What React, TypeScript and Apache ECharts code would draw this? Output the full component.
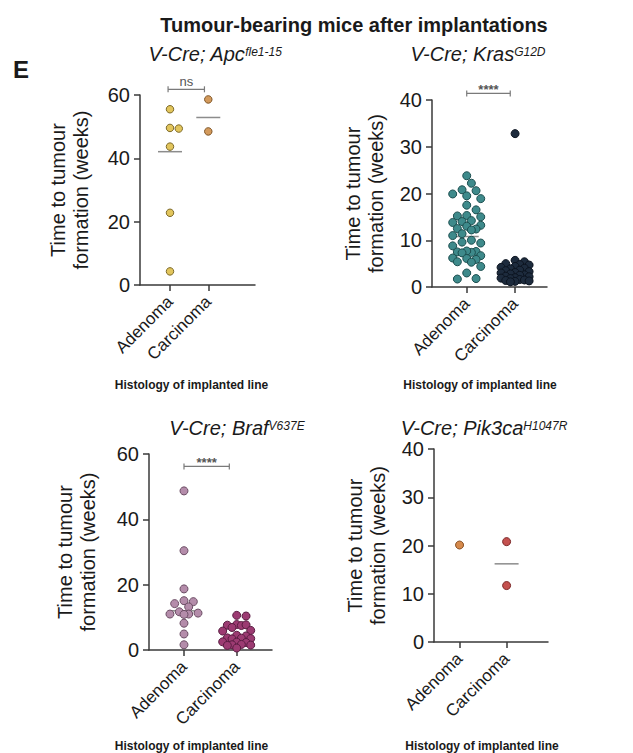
import React, { useEffect, useRef } from "react";
import * as echarts from "echarts";

// ---------- data ----------
const groups = ["Adenoma", "Carcinoma"];
const yAxisTitle = "Time to tumour\nformation (weeks)";
const xAxisTitle = "Histology of implanted line";

const apcAdenoma = [55.5, 49.6, 49.4, 43.7, 22.8, 4.3];
const apcCarcinoma = [58.6, 48.5];
const apcCentre = [42.1, 52.9];

const krasAdenoma = [
  23.8, 22.2, 20.8, 20.6, 19.9, 19.5, 18.9, 17.5, 16.5, 15.2, 15.0, 15.3, 14.0,
  14.2, 13.8, 13.2, 13.0, 12.4, 12.5, 12.2, 11.4, 11.0, 10.0, 9.6, 9.4, 8.8,
  7.6, 7.4, 7.5, 7.7, 7.3, 6.7, 6.1, 6.2, 5.9, 5.3, 5.4, 4.4, 3.0, 1.7, 1.8,
];
const krasCarcinoma = [
  32.8, 5.7, 5.4, 5.0, 4.8, 4.7, 4.4, 4.2, 4.0, 3.9, 3.6, 3.5, 3.3, 3.1, 3.0,
  2.8, 2.6, 2.5, 2.3, 2.2, 2.0, 1.9, 1.8, 1.6, 1.5, 1.4, 1.2, 1.3, 1.1,
];
const krasCentre = [10.8, 2.8];

const brafAdenoma = [48.7, 30.4, 18.7, 15.1, 14.8, 14.2, 13.2, 11.7, 11.3, 11.0, 11.0, 10.9, 8.2, 4.9, 1.6];
const brafCarcinoma = [
  10.6, 10.4, 7.8, 7.6, 7.5, 7.7, 6.9, 6.0, 5.8, 4.5, 4.3, 3.7, 3.5, 3.6, 3.4,
  2.5, 2.3, 2.4, 1.7, 1.5, 1.6, 1.4, 0.6,
];
const brafCentre = [12.0, 4.4];

const pikAdenoma = [20.1];
const pikCarcinoma = [20.8, 11.7];
const pikCentre: (number | null)[] = [null, 16.2];

const yMaxes = [60, 40, 60, 40];
const yIntervals = [20, 10, 20, 10];
const significance = ["ns", "****", "****", ""];

const mainTitle = "Tumour-bearing mice after implantations";
const panelLetter = "E";
const genotypes = [
  ["V-Cre; Apc", "fle1-15"],
  ["V-Cre; Kras", "G12D"],
  ["V-Cre; Braf", "V637E"],
  ["V-Cre; Pik3ca", "H1047R"],
];

// ---------- layout / style ----------
const FONT = "'Liberation Sans', Arial, Helvetica, sans-serif";
const INK = "#1a1a1a";
const AXIS = "#3a3a3a";

type Panel = {
  left: number; top: number; width: number; height: number;
  xMin: number; xMax: number;
  yNameGap: number; xNameGap: number; xNamePad: number;
  spread: number; size: number;
  colors: [string, string][];
  bracket: [number, number, number] | null;
  titleX: number; titleY: number;
};

const panels: Panel[] = [
  {
    left: 140, top: 95, width: 115, height: 190, xMin: 0.217, xMax: 3.22,
    yNameGap: 48, xNameGap: 94, xNamePad: 12, spread: 0.3, size: 7.5,
    colors: [["#e2c55c", "#7d6a2a"], ["#d39a5c", "#7f5628"]],
    bracket: [0.95, 1.9, 61.8], titleX: 215, titleY: 46,
  },
  {
    left: 432, top: 100, width: 115, height: 187, xMin: 0.282, xMax: 2.66,
    yNameGap: 45, xNameGap: 92, xNamePad: 19, spread: 0.36, size: 8,
    colors: [["#3e8a8b", "#1d4f50"], ["#1d2b3d", "#0c1420"]],
    bracket: [1.0, 1.9, 41.4], titleX: 478, titleY: 46,
  },
  {
    left: 149, top: 454, width: 123, height: 197, xMin: 0.336, xMax: 2.67,
    yNameGap: 50, xNameGap: 90, xNamePad: 38, spread: 0.32, size: 8,
    colors: [["#b48caa", "#6d4f66"], ["#9c3b72", "#5a1d42"]],
    bracket: [1.0, 1.86, 56.2], titleX: 237, titleY: 420,
  },
  {
    left: 434, top: 449, width: 114, height: 193, xMin: 0.457, xMax: 2.88,
    yNameGap: 45, xNameGap: 98, xNamePad: 18, spread: 0.3, size: 8,
    colors: [["#d68a4c", "#8a5226"], ["#c4514f", "#7a2626"]],
    bracket: null, titleX: 484, titleY: 420,
  },
];

const panelData: [number[], number[], (number | null)[]][] = [
  [apcAdenoma, apcCarcinoma, apcCentre],
  [krasAdenoma, krasCarcinoma, krasCentre],
  [brafAdenoma, brafCarcinoma, brafCentre],
  [pikAdenoma, pikCarcinoma, pikCentre],
];

// simple beeswarm placement (in pixel space, converted back to data units)
function swarm(values: number[], centre: number, pxX: number, pxY: number, diam: number, maxOff: number) {
  const order = values.map((_, i) => i).sort((a, b) => values[b] - values[a]);
  const placed: { x: number; y: number }[] = [];
  const out: number[][] = new Array(values.length);
  const step = diam * 0.55;
  const limit = maxOff * pxX;
  for (const i of order) {
    const y = values[i] * pxY;
    const cands = [0];
    for (let k = 1; k * step <= limit; k++) cands.push(k * step, -k * step);
    let best = 0;
    let bestScore = -Infinity;
    for (const c of cands) {
      let minD = Infinity;
      for (const p of placed) {
        const d = Math.hypot(p.x - c, p.y - y);
        if (d < minD) minD = d;
      }
      if (minD >= diam * 0.98) { best = c; break; }
      if (minD > bestScore + 0.5) { bestScore = minD; best = c; }
    }
    placed.push({ x: best, y });
    out[i] = [centre + best / pxX, values[i]];
  }
  return out;
}

function buildOption() {
  const grid: any[] = [];
  const xAxis: any[] = [];
  const yAxis: any[] = [];
  const series: any[] = [];
  const title: any[] = [
    {
      text: mainTitle, left: 349, top: 10, textAlign: "center",
      textStyle: { fontSize: 20, fontWeight: "bold", color: INK, fontFamily: FONT },
    },
    {
      text: panelLetter, left: 8, top: 52,
      textStyle: { fontSize: 24, fontWeight: "bold", color: INK, fontFamily: FONT },
    },
  ];

  panels.forEach((p, i) => {
    grid.push({ left: p.left, top: p.top, width: p.width, height: p.height, containLabel: false });
    const lineStyle = { color: AXIS, width: 1.5 };
    xAxis.push({
      type: "value", gridIndex: i, min: p.xMin, max: p.xMax,
      axisLine: { show: true, onZero: false, lineStyle },
      axisTick: { show: true, customValues: [1, 2], length: 6, lineStyle },
      axisLabel: {
        customValues: [1, 2], rotate: 45, margin: 14, fontSize: 17, color: INK, fontFamily: FONT,
        formatter: (v: number) => groups[Math.round(v) - 1] ?? "",
      },
      splitLine: { show: false },
      name: xAxisTitle, nameLocation: "middle", nameGap: p.xNameGap,
      nameTextStyle: { fontSize: 12, fontWeight: "bold", color: INK, fontFamily: FONT, padding: [0, p.xNamePad, 0, 0] },
    });
    yAxis.push({
      type: "value", gridIndex: i, min: 0, max: yMaxes[i], interval: yIntervals[i],
      axisLine: { show: true, onZero: false, lineStyle },
      axisTick: { show: true, length: 6, lineStyle },
      axisLabel: { fontSize: 20, margin: 10, color: INK, fontFamily: FONT },
      splitLine: { show: false },
      name: yAxisTitle, nameLocation: "middle", nameGap: p.yNameGap,
      nameTextStyle: { fontSize: 20, lineHeight: 23, color: INK, fontFamily: FONT },
    });

    const [g, sup] = genotypes[i];
    title.push({
      text: `{m|${g}}{s|${sup}}`, left: p.titleX, top: p.titleY, textAlign: "center",
      padding: 0,
      textStyle: {
        fontWeight: "normal",
        rich: {
          m: { fontSize: 20, fontStyle: "italic", fontWeight: "normal", color: INK, fontFamily: FONT, lineHeight: 16 },
          s: { fontSize: 12, fontStyle: "italic", fontWeight: "normal", color: INK, fontFamily: FONT, verticalAlign: "top", lineHeight: 10 },
        },
      },
    });

    const pxX = p.width / (p.xMax - p.xMin);
    const pxY = p.height / yMaxes[i];
    const [ad, ca, centre] = panelData[i];

    const centreData = centre
      .map((v, k) => (v == null ? null : [k + 1, v]))
      .filter((d) => d !== null);
    series.push({
      type: "custom", xAxisIndex: i, yAxisIndex: i, silent: true, z: 1,
      data: centreData,
      renderItem: (_: any, api: any) => {
        const c = api.coord([api.value(0), api.value(1)]);
        return {
          type: "line",
          shape: { x1: c[0] - 12, y1: c[1], x2: c[0] + 12, y2: c[1] },
          style: { stroke: "#8c8c8c", lineWidth: 1.5 },
        };
      },
    });

    [ad, ca].forEach((vals, k) => {
      series.push({
        type: "scatter", xAxisIndex: i, yAxisIndex: i, z: 3,
        name: `${genotypes[i][0]} ${groups[k]}`,
        data: swarm(vals, k + 1, pxX, pxY, p.size + 0.5, p.spread),
        symbol: "circle", symbolSize: p.size,
        itemStyle: { color: p.colors[k][0], borderColor: p.colors[k][1], borderWidth: 1, opacity: 1 },
      });
    });

    if (p.bracket) {
      const label = significance[i];
      series.push({
        type: "custom", xAxisIndex: i, yAxisIndex: i, silent: true, clip: false, z: 4,
        data: [p.bracket],
        renderItem: (_: any, api: any) => {
          const a = api.coord([api.value(0), api.value(2)]);
          const b = api.coord([api.value(1), api.value(2)]);
          const st = { stroke: "#7a7a7a", lineWidth: 1.2 };
          return {
            type: "group",
            children: [
              { type: "line", shape: { x1: a[0], y1: a[1], x2: b[0], y2: b[1] }, style: st },
              { type: "line", shape: { x1: a[0], y1: a[1] - 3, x2: a[0], y2: a[1] + 3 }, style: st },
              { type: "line", shape: { x1: b[0], y1: b[1] - 3, x2: b[0], y2: b[1] + 3 }, style: st },
              {
                type: "text", x: (a[0] + b[0]) / 2, y: a[1] + (label === "ns" ? -1 : 3),
                style: {
                  text: label, align: "center", verticalAlign: "bottom",
                  font: `${label === "ns" ? "normal 13px" : "bold 13px"} ${FONT}`, fill: "#555",
                },
              },
            ],
          };
        },
      });
    }
  });

  return { animation: false, backgroundColor: "#ffffff", title, grid, xAxis, yAxis, series };
}

export default function App() {
  const ref = useRef<HTMLDivElement>(null);
  useEffect(() => {
    if (!ref.current) return;
    const chart = echarts.init(ref.current, null, { renderer: "svg" });
    chart.setOption(buildOption() as any);
    return () => chart.dispose();
  }, []);
  return (
    <div
      ref={ref}
      style={{ position: "fixed", left: 0, top: 0, width: 633, height: 753, background: "#fff" }}
    />
  );
}
